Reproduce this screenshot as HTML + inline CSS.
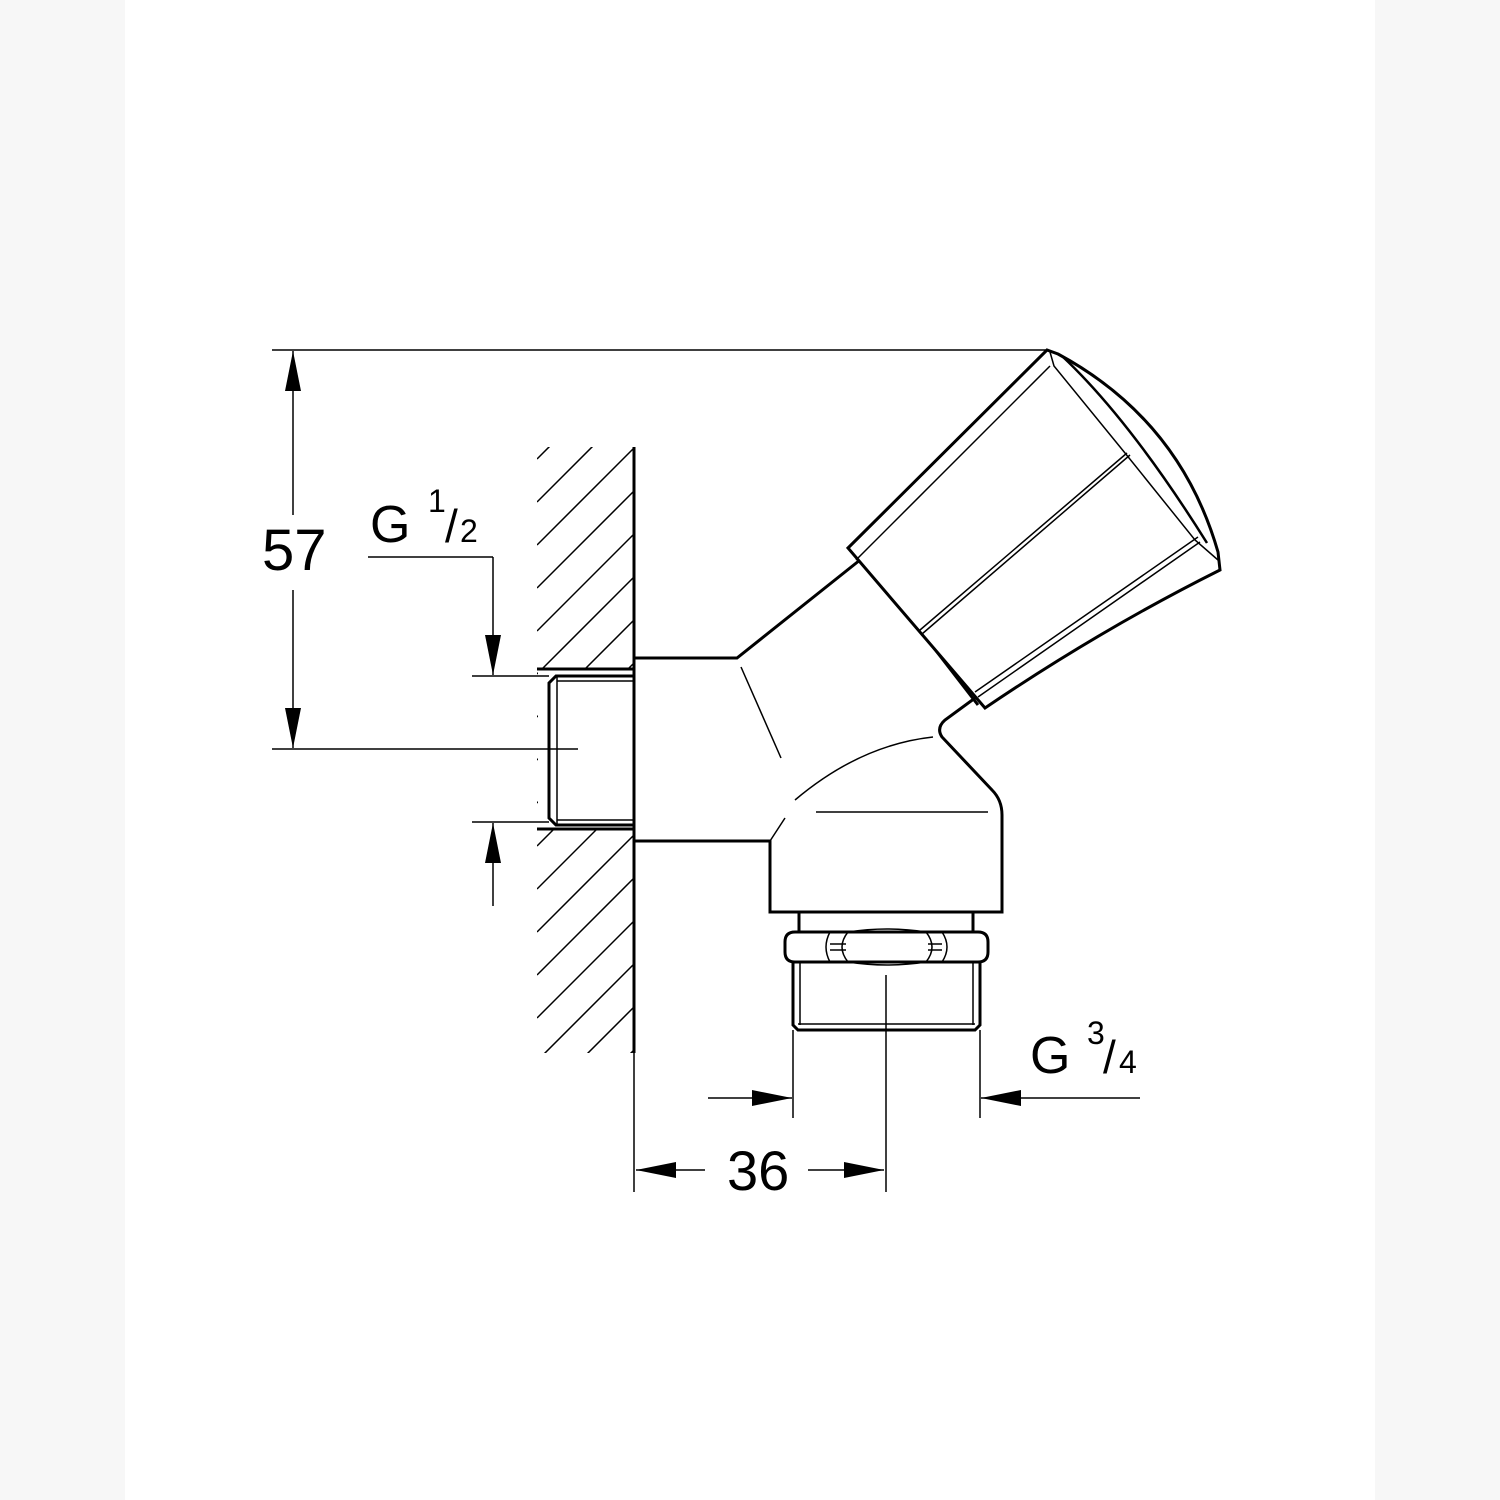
<!DOCTYPE html>
<html><head><style>
html,body{margin:0;padding:0;background:#f7f7f7;}
#c{position:absolute;left:125px;top:0;width:1250px;height:1500px;background:#fff;}
svg{position:absolute;left:0;top:0;}
text{font-family:"Liberation Sans",Arial,sans-serif;fill:#000;}
</style></head><body>
<div id="c"></div>
<svg width="1500" height="1500" viewBox="0 0 1500 1500">
<defs>
<clipPath id="wc"><rect x="537" y="447" width="97" height="606"/></clipPath>
<marker id="ar" markerWidth="40" markerHeight="16" refX="40" refY="8" orient="auto" markerUnits="userSpaceOnUse">
<path d="M0,0 L40,8 L0,16 Z" fill="#000"/></marker>
</defs>
<g stroke="#000" fill="none" stroke-width="1.5">
<g clip-path="url(#wc)">
<path d="M537,416 l97,-97 M537,459 l97,-97 M537,502 l97,-97 M537,545 l97,-97 M537,588 l97,-97 M537,631 l97,-97 M537,674 l97,-97 M537,717 l97,-97 M537,760 l97,-97 M537,803 l97,-97 M537,846 l97,-97 M537,889 l97,-97 M537,932 l97,-97 M537,975 l97,-97 M537,1018 l97,-97 M537,1061 l97,-97 M537,1104 l97,-97 M537,1147 l97,-97 M537,1190 l97,-97"/>
</g>
<rect x="538" y="669" width="95" height="160" fill="#fff" stroke="none"/>
<line x1="634" y1="447" x2="634" y2="1053" stroke-width="3"/>
<line x1="537" y1="669" x2="634" y2="669" stroke-width="3"/>
<line x1="537" y1="829" x2="634" y2="829" stroke-width="3"/>
<path d="M634,676 L556,676 L549,683 L549,818 L556,825 L634,825" stroke-width="3"/>
<line x1="557" y1="676" x2="557" y2="825"/>
<line x1="557" y1="681" x2="634" y2="681"/>
<line x1="557" y1="820" x2="634" y2="820"/>
<path d="M634,658 L737,658 L860,560" stroke-width="3"/>
<path d="M634,841 L770,841 L770,912 L1002,912 L1002,815 Q1002,800 992,790 L942,737 Q936,728 945,720 L986,690" stroke-width="3"/>
<path d="M920,630 L978,705" stroke-width="3"/>
<path d="M741,667 L781,758"/>
<path d="M770,841 L785,818 M795,800 Q860,745 933,737"/>
<path d="M816,812 L988,812"/>
<path d="M848,548 L1047,350 L1058,354 Q1180,420 1218,552 L1220,570 Q1100,630 985,708 L848,548 Z" stroke-width="3" fill="#fff"/>
<path d="M856,560 L1050,366" />
<path d="M1050,352 L1054,366 Q1090,410 1125,453 L1195,540 L1218,560"/>
<path d="M1062,356 Q1130,420 1207,543" stroke-width="2.5"/>
<path d="M1127,453 L920,630 M1130,455 L922,634"/>
<path d="M1198,537 L975,692 M1200,542 L978,697"/>
<path d="M799,912 L799,932 M973,912 L973,932" stroke-width="3"/>
<path d="M795,932 L978,932 Q988,932 988,942 L988,952 Q988,962 978,962 L795,962 Q785,962 785,952 L785,942 Q785,932 795,932 Z" stroke-width="3"/>
<path d="M830,932 Q822,947 830,962 M848,932 Q836,947 848,962 M926,932 Q938,947 926,962 M942,932 Q952,947 942,962 M830,944 L846,944 M830,950 L846,950 M928,944 L942,944 M928,950 L942,950 M848,932 Q887,926 926,932 M848,962 Q887,968 926,962"/>
<path d="M793,962 L793,1025 L798,1030 L975,1030 L980,1025 L980,962" stroke-width="3"/>
<path d="M800,962 L800,1025 M973,962 L973,1025 M798,1024 L975,1024"/>
<line x1="272" y1="350" x2="1047" y2="350"/>
<line x1="272" y1="749" x2="578" y2="749"/>
<line x1="293" y1="515" x2="293" y2="351" marker-end="url(#ar)"/>
<line x1="293" y1="590" x2="293" y2="748" marker-end="url(#ar)"/>
<line x1="368" y1="557" x2="493" y2="557"/>
<line x1="493" y1="557" x2="493" y2="675" marker-end="url(#ar)"/>
<line x1="493" y1="906" x2="493" y2="823" marker-end="url(#ar)"/>
<line x1="472" y1="676" x2="549" y2="676"/>
<line x1="472" y1="822" x2="549" y2="822"/>
<line x1="634" y1="1053" x2="634" y2="1192"/>
<line x1="886" y1="975" x2="886" y2="1192"/>
<line x1="793" y1="1030" x2="793" y2="1118"/>
<line x1="980" y1="1030" x2="980" y2="1118"/>
<line x1="708" y1="1098" x2="792" y2="1098" marker-end="url(#ar)"/>
<line x1="1140" y1="1098" x2="981" y2="1098" marker-end="url(#ar)"/>
<line x1="705" y1="1170" x2="636" y2="1170" marker-end="url(#ar)"/>
<line x1="808" y1="1170" x2="884" y2="1170" marker-end="url(#ar)"/>
</g>
<text x="262" y="570" font-size="58">57</text>
<text x="370" y="542" font-size="52">G</text>
<text x="428" y="512" font-size="32">1</text>
<text x="445" y="542" font-size="46">/</text>
<text x="460" y="542" font-size="32">2</text>
<text x="727" y="1190" font-size="56">36</text>
<text x="1030" y="1073" font-size="52">G</text>
<text x="1087" y="1044" font-size="32">3</text>
<text x="1103" y="1073" font-size="46">/</text>
<text x="1119" y="1073" font-size="32">4</text>
</svg>
</body></html>
